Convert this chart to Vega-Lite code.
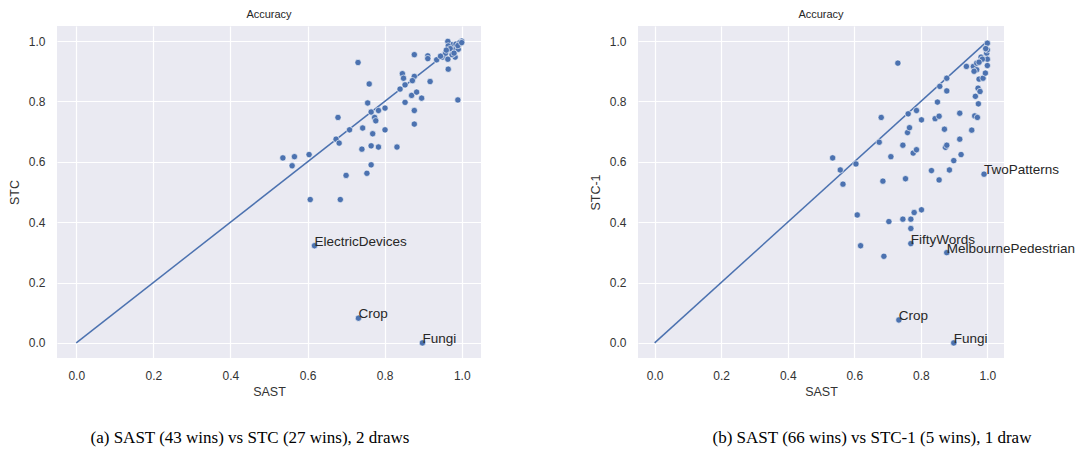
{
  "$schema": "https://vega.github.io/schema/vega-lite/v6.json",
  "background": "white",
  "padding": {"left": 8, "top": 9, "right": 0, "bottom": 0},
  "config": {
    "font": "Liberation Sans",
    "view": {"fill": "#EAEAF2", "stroke": null},
    "axis": {
      "grid": true, "gridColor": "white", "gridWidth": 1.2, "domain": false, "ticks": false,
      "labelFont": "Liberation Sans", "labelFontSize": 12, "labelColor": "#333333", "labelPadding": 12,
      "titleFont": "Liberation Sans", "titleFontSize": 12.5, "titleFontWeight": "normal", "titleColor": "#333333"
    },
    "axisX": {"titlePadding": 4},
    "axisY": {"titlePadding": 7}
  },
  "datasets": {
    "diag": [{"x": 0, "y": 0}, {"x": 1, "y": 1}],
    "capa": [{"caption": "(a) SAST (43 wins) vs STC (27 wins), 2 draws"}],
    "capb": [{"caption": "(b) SAST (66 wins) vs STC-1 (5 wins), 1 draw"}],
    "a": [
      {"x": 0.536, "y": 0.613}, {"x": 0.566, "y": 0.617}, {"x": 0.560, "y": 0.587}, {"x": 0.604, "y": 0.624},
      {"x": 0.607, "y": 0.475}, {"x": 0.618, "y": 0.322, "label": "ElectricDevices"}, {"x": 0.685, "y": 0.475},
      {"x": 0.700, "y": 0.555}, {"x": 0.732, "y": 0.082, "label": "Crop"}, {"x": 0.754, "y": 0.562},
      {"x": 0.765, "y": 0.590}, {"x": 0.898, "y": 0.0, "label": "Fungi"}, {"x": 0.990, "y": 0.805},
      {"x": 0.731, "y": 0.929}, {"x": 0.760, "y": 0.858}, {"x": 0.846, "y": 0.892}, {"x": 0.849, "y": 0.877},
      {"x": 0.877, "y": 0.883}, {"x": 0.872, "y": 0.869}, {"x": 0.853, "y": 0.855}, {"x": 0.840, "y": 0.841},
      {"x": 0.918, "y": 0.866}, {"x": 0.870, "y": 0.820}, {"x": 0.883, "y": 0.831}, {"x": 0.896, "y": 0.811},
      {"x": 0.853, "y": 0.797}, {"x": 0.877, "y": 0.770}, {"x": 0.877, "y": 0.725}, {"x": 0.756, "y": 0.795},
      {"x": 0.765, "y": 0.765}, {"x": 0.784, "y": 0.770}, {"x": 0.801, "y": 0.778}, {"x": 0.679, "y": 0.747},
      {"x": 0.774, "y": 0.747}, {"x": 0.777, "y": 0.736}, {"x": 0.709, "y": 0.706}, {"x": 0.743, "y": 0.712},
      {"x": 0.801, "y": 0.706}, {"x": 0.769, "y": 0.693}, {"x": 0.674, "y": 0.675}, {"x": 0.682, "y": 0.662},
      {"x": 0.741, "y": 0.642}, {"x": 0.765, "y": 0.653}, {"x": 0.784, "y": 0.649}, {"x": 0.832, "y": 0.649},
      {"x": 0.877, "y": 0.955}, {"x": 0.912, "y": 0.951}, {"x": 0.912, "y": 0.942}, {"x": 0.935, "y": 0.938},
      {"x": 0.950, "y": 0.947}, {"x": 0.955, "y": 0.954}, {"x": 0.964, "y": 0.940}, {"x": 0.983, "y": 0.947},
      {"x": 0.965, "y": 0.907}, {"x": 0.978, "y": 0.966}, {"x": 0.981, "y": 0.977}, {"x": 0.974, "y": 0.988},
      {"x": 0.964, "y": 0.999}, {"x": 0.965, "y": 0.984}, {"x": 1.0, "y": 1.0}, {"x": 0.996, "y": 0.991},
      {"x": 0.991, "y": 0.973}, {"x": 0.970, "y": 0.975}, {"x": 0.985, "y": 0.990}, {"x": 0.995, "y": 0.995},
      {"x": 0.958, "y": 0.960}, {"x": 0.945, "y": 0.950}, {"x": 0.990, "y": 0.985}, {"x": 0.975, "y": 0.955},
      {"x": 0.960, "y": 0.970}, {"x": 1.0, "y": 0.995}, {"x": 0.980, "y": 0.960}
    ],
    "b": [
      {"x": 0.535, "y": 0.613}, {"x": 0.558, "y": 0.573}, {"x": 0.566, "y": 0.526}, {"x": 0.605, "y": 0.593},
      {"x": 0.609, "y": 0.424}, {"x": 0.619, "y": 0.322}, {"x": 0.675, "y": 0.665}, {"x": 0.681, "y": 0.747},
      {"x": 0.686, "y": 0.536}, {"x": 0.689, "y": 0.287}, {"x": 0.704, "y": 0.402}, {"x": 0.710, "y": 0.617},
      {"x": 0.731, "y": 0.927}, {"x": 0.734, "y": 0.076, "label": "Crop"}, {"x": 0.746, "y": 0.655},
      {"x": 0.746, "y": 0.410}, {"x": 0.754, "y": 0.544}, {"x": 0.760, "y": 0.697}, {"x": 0.762, "y": 0.759},
      {"x": 0.766, "y": 0.713}, {"x": 0.770, "y": 0.410}, {"x": 0.770, "y": 0.379},
      {"x": 0.770, "y": 0.329, "label": "FiftyWords"}, {"x": 0.777, "y": 0.629}, {"x": 0.780, "y": 0.432},
      {"x": 0.787, "y": 0.770}, {"x": 0.787, "y": 0.640}, {"x": 0.802, "y": 0.739}, {"x": 0.802, "y": 0.441},
      {"x": 0.832, "y": 0.571}, {"x": 0.843, "y": 0.743}, {"x": 0.850, "y": 0.798}, {"x": 0.855, "y": 0.751},
      {"x": 0.855, "y": 0.540}, {"x": 0.857, "y": 0.850}, {"x": 0.871, "y": 0.708}, {"x": 0.874, "y": 0.648},
      {"x": 0.878, "y": 0.655}, {"x": 0.878, "y": 0.877}, {"x": 0.878, "y": 0.835},
      {"x": 0.878, "y": 0.299, "label": "MelbournePedestrian"}, {"x": 0.886, "y": 0.573},
      {"x": 0.899, "y": 0.0, "label": "Fungi"}, {"x": 0.899, "y": 0.604}, {"x": 0.917, "y": 0.761},
      {"x": 0.917, "y": 0.675}, {"x": 0.921, "y": 0.624}, {"x": 0.937, "y": 0.916}, {"x": 0.953, "y": 0.705},
      {"x": 0.958, "y": 0.916}, {"x": 0.962, "y": 0.752}, {"x": 0.968, "y": 0.927}, {"x": 0.968, "y": 0.905},
      {"x": 0.964, "y": 0.817}, {"x": 0.970, "y": 0.747}, {"x": 0.972, "y": 0.844}, {"x": 0.973, "y": 0.792},
      {"x": 0.975, "y": 0.874}, {"x": 0.978, "y": 0.833}, {"x": 0.981, "y": 0.947}, {"x": 0.987, "y": 0.877},
      {"x": 0.990, "y": 0.559, "label": "TwoPatterns"}, {"x": 0.994, "y": 0.894}, {"x": 0.998, "y": 0.960},
      {"x": 1.0, "y": 0.993}, {"x": 1.0, "y": 0.940}, {"x": 1.0, "y": 0.919}, {"x": 1.0, "y": 0.971},
      {"x": 0.985, "y": 0.940}, {"x": 0.995, "y": 0.975}, {"x": 0.975, "y": 0.930}, {"x": 0.960, "y": 0.900}
    ]
  },
  "spacing": 30,
  "vconcat": [
    {
      "spacing": 108,
      "hconcat": [
        {
          "width": 424, "height": 332,
          "title": {"text": "Accuracy", "fontSize": 11, "fontWeight": "normal", "color": "#262626", "offset": 6, "anchor": "middle"},
          "encoding": {
            "x": {"field": "x", "type": "quantitative", "scale": {"domain": [-0.05, 1.05], "nice": false, "zero": false},
              "axis": {"values": [0, 0.2, 0.4, 0.6, 0.8, 1.0], "format": ".1f", "title": "SAST"}},
            "y": {"field": "y", "type": "quantitative", "scale": {"domain": [-0.05, 1.05], "nice": false, "zero": false},
              "axis": {"values": [0, 0.2, 0.4, 0.6, 0.8, 1.0], "format": ".1f", "title": "STC"}}
          },
          "layer": [
            {"data": {"name": "diag"}, "mark": {"type": "line", "color": "#4C72B0", "strokeWidth": 1.5}},
            {"data": {"name": "a"}, "mark": {"type": "circle", "color": "#4C72B0", "opacity": 1, "stroke": "white", "strokeWidth": 0.6, "size": 40}},
            {"data": {"name": "a"}, "transform": [{"filter": "datum.label"}],
              "mark": {"type": "text", "align": "left", "baseline": "alphabetic", "fontSize": 13.5, "color": "#262626", "clip": false},
              "encoding": {"text": {"field": "label"}}}
          ]
        },
        {
          "width": 366, "height": 332,
          "title": {"text": "Accuracy", "fontSize": 11, "fontWeight": "normal", "color": "#262626", "offset": 6, "anchor": "middle"},
          "encoding": {
            "x": {"field": "x", "type": "quantitative", "scale": {"domain": [-0.05, 1.05], "nice": false, "zero": false},
              "axis": {"values": [0, 0.2, 0.4, 0.6, 0.8, 1.0], "format": ".1f", "title": "SAST"}},
            "y": {"field": "y", "type": "quantitative", "scale": {"domain": [-0.05, 1.05], "nice": false, "zero": false},
              "axis": {"values": [0, 0.2, 0.4, 0.6, 0.8, 1.0], "format": ".1f", "title": "STC-1"}}
          },
          "layer": [
            {"data": {"name": "diag"}, "mark": {"type": "line", "color": "#4C72B0", "strokeWidth": 1.5}},
            {"data": {"name": "b"}, "mark": {"type": "circle", "color": "#4C72B0", "opacity": 1, "stroke": "white", "strokeWidth": 0.6, "size": 40}},
            {"data": {"name": "b"}, "transform": [{"filter": "datum.label"}],
              "mark": {"type": "text", "align": "left", "baseline": "alphabetic", "fontSize": 13.5, "color": "#262626", "clip": false},
              "encoding": {"text": {"field": "label"}}}
          ]
        }
      ]
    },
    {
      "spacing": 249,
      "hconcat": [
        {
          "width": 386, "height": 20, "view": {"fill": null, "stroke": null},
          "data": {"name": "capa"},
          "mark": {"type": "text", "font": "Liberation Serif", "fontSize": 17, "color": "black", "align": "center", "baseline": "middle"},
          "encoding": {"text": {"field": "caption"}}
        },
        {
          "width": 360, "height": 20, "view": {"fill": null, "stroke": null},
          "data": {"name": "capb"},
          "mark": {"type": "text", "font": "Liberation Serif", "fontSize": 17, "color": "black", "align": "center", "baseline": "middle"},
          "encoding": {"text": {"field": "caption"}}
        }
      ]
    }
  ]
}
